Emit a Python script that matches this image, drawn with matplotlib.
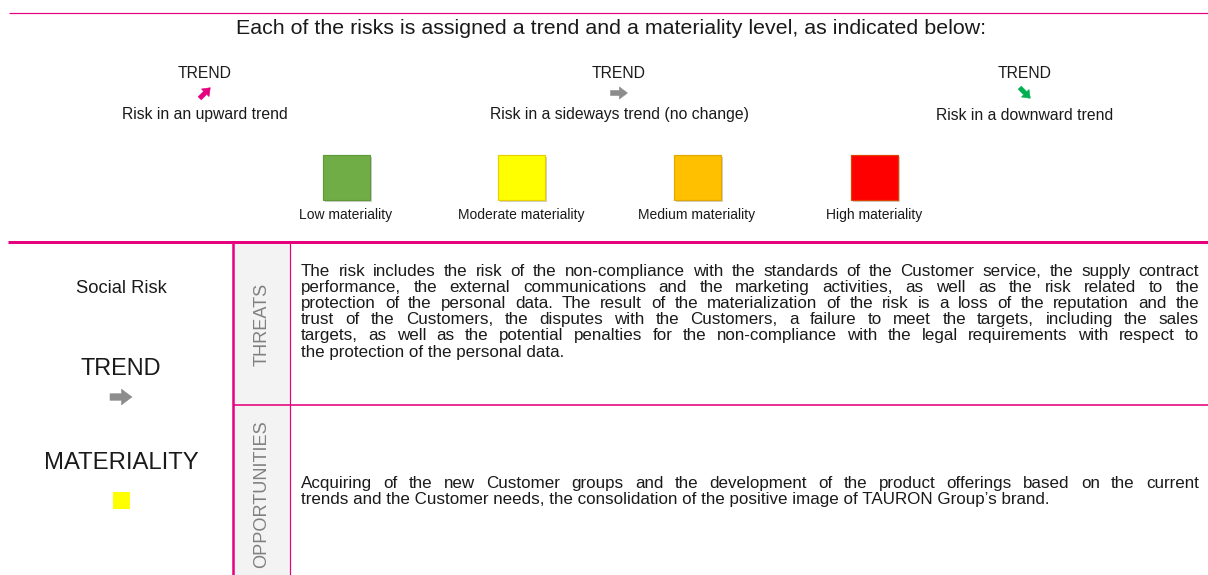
import numpy as np
import matplotlib
matplotlib.use("Agg")
import matplotlib.pyplot as plt
from matplotlib.patches import Rectangle, Polygon

# ---------------- data ----------------
title = "Each of the risks is assigned a trend and a materiality level, as indicated below:"
trend_heading = "TREND"
trend_labels = ["Risk in an upward trend",
                "Risk in a sideways trend (no change)",
                "Risk in a downward trend"]
trend_angles = [45, 0, -45]
trend_colors = ["#e6007e", "#8c8c8c", "#00b050"]

materiality_labels = ["Low materiality", "Moderate materiality",
                      "Medium materiality", "High materiality"]
materiality_colors = ["#70ad47", "#ffff00", "#ffc000", "#ff0000"]
materiality_edges = ["#5e9a3a", "#e8d000", "#e0a800", "#e04000"]

risk_name = "Social Risk"
risk_trend_index = 1          # sideways
risk_materiality_index = 1    # moderate

section_labels = ["THREATS", "OPPORTUNITIES"]
threats_lines = [
    "The risk includes the risk of the non-compliance with the standards of the Customer service, the supply contract",
    "performance, the external communications and the marketing activities, as well as the risk related to the",
    "protection of the personal data. The result of the materialization of the risk is a loss of the reputation and the",
    "trust of the Customers, the disputes with the Customers, a failure to meet the targets, including the sales",
    "targets, as well as the potential penalties for the non-compliance with the legal requirements with respect to",
    "the protection of the personal data.",
]
opportunities_lines = [
    "Acquiring of the new Customer groups and the development of the product offerings based on the current",
    "trends and the Customer needs, the consolidation of the positive image of TAURON Group\u2019s brand.",
]

# ---------------- layout ----------------
W, H, DPI = 1208, 575, 100
PINK = "#e6007e"
TXT = "#1a1a1a"
GRAY_TXT = "#808080"

plt.rcParams["font.family"] = ["Liberation Sans", "DejaVu Sans"]

fig = plt.figure(figsize=(W / DPI, H / DPI), dpi=DPI)
ax = fig.add_axes([0, 0, 1, 1])
ax.set_xlim(0, W)
ax.set_ylim(H, 0)
ax.axis("off")

def px(p):
    return p * 72.0 / DPI

# block arrow shape (unit length, pointing right)
ARROW_SHAPE = np.array([
    [-0.50, -0.15], [0.02, -0.15], [0.02, -0.36], [0.50, 0.0],
    [0.02, 0.36], [0.02, 0.15], [-0.50, 0.15],
])

def block_arrow(cx, cy, length, angle_deg, color):
    a = np.deg2rad(angle_deg)
    rot = np.array([[np.cos(a), -np.sin(a)], [np.sin(a), np.cos(a)]])
    pts = ARROW_SHAPE @ rot.T * length
    pts[:, 1] *= -1            # y axis points down in this canvas
    pts += [cx, cy]
    ax.add_patch(Polygon(pts, closed=True, facecolor=color, edgecolor=color,
                         lw=px(0.5), joinstyle="miter", zorder=4))

# title & top line
ax.plot([9, W], [13, 13], color=PINK, lw=px(1.2), solid_capstyle="butt")
ax.text(611, 34, title, ha="center", va="baseline", fontsize=px(21.4), color=TXT)

# trend legend
trend_x = [205, 619, 1025]
trend_len = [15, 17, 15]
for x, lab, ang, col, ln in zip(trend_x, trend_labels, trend_angles, trend_colors, trend_len):
    ax.text(x, 78, trend_heading, ha="center", va="baseline", fontsize=px(15.8), color=TXT)
    block_arrow(x, 93, ln, ang, col)
    ax.text(x, 119.5, lab, ha="center", va="baseline", fontsize=px(15.8), color=TXT)

# materiality legend
mat_x = [346, 521, 697, 874]
sq_w, sq_h, sq_top = 47, 45, 155
for x, lab, col, ec in zip(mat_x, materiality_labels, materiality_colors, materiality_edges):
    ax.add_patch(Rectangle((x - sq_w / 2 + 2, sq_top + 2), sq_w, sq_h,
                           facecolor="#d0d0d0", edgecolor="none", zorder=1))
    ax.add_patch(Rectangle((x - sq_w / 2, sq_top), sq_w, sq_h,
                           facecolor=col, edgecolor=ec, lw=px(1.2), zorder=2))
    ax.text(x, 219, lab, ha="center", va="baseline", fontsize=px(13.9), color=TXT)

# table frame
TOP = 242
MID = 404.5
ax.add_patch(Rectangle((233, TOP), 57, H - TOP, facecolor="#f3f3f3", edgecolor="none", zorder=0))
ax.plot([8, W], [TOP, TOP], color=PINK, lw=px(3), solid_capstyle="butt", zorder=3)
ax.plot([233, 233], [TOP, H], color=PINK, lw=px(2.5), solid_capstyle="butt", zorder=3)
ax.plot([290, 290], [TOP, H], color=PINK, lw=px(1.2), solid_capstyle="butt", zorder=3)
ax.plot([233, W], [MID, MID], color=PINK, lw=px(1.6), solid_capstyle="butt", zorder=3)

# left panel
ax.text(121, 293, risk_name, ha="center", va="baseline", fontsize=px(18.4), color=TXT)
ax.text(121, 375, trend_heading, ha="center", va="baseline", fontsize=px(23.5), color=TXT)
block_arrow(121, 397, 22, trend_angles[risk_trend_index], trend_colors[risk_trend_index])
ax.text(121, 469, "MATERIALITY", ha="center", va="baseline", fontsize=px(23.9), color=TXT)
ax.add_patch(Rectangle((113, 492), 17, 17,
                       facecolor=materiality_colors[risk_materiality_index],
                       edgecolor="none"))

# section labels
ax.text(262, (TOP + MID) / 2 + 1, section_labels[0], rotation=90, ha="center", va="center",
        fontsize=px(18.2), color=GRAY_TXT)
ax.text(262, 494, section_labels[1], rotation=90, ha="center", va="center",
        fontsize=px(18.2), color=GRAY_TXT)

# justified paragraphs
fig.canvas.draw()
renderer = fig.canvas.get_renderer()
BODY_FS = px(17.0)

def measure(s):
    t = ax.text(0, 0, s, fontsize=BODY_FS)
    w = t.get_window_extent(renderer).width
    t.remove()
    return w

def paragraph(lines, x0, x1, y0, dy):
    for i, line in enumerate(lines):
        y = y0 + i * dy
        words = line.split(" ")
        if i == len(lines) - 1 or len(words) < 2:
            ax.text(x0, y, line, ha="left", va="baseline", fontsize=BODY_FS, color=TXT)
            continue
        widths = [measure(w) for w in words]
        gap = (x1 - x0 - sum(widths)) / (len(words) - 1)
        x = x0
        for w, wd in zip(words, widths):
            ax.text(x, y, w, ha="left", va="baseline", fontsize=BODY_FS, color=TXT)
            x += wd + gap

paragraph(threats_lines, 301, 1199, 276, 16.1)
paragraph(opportunities_lines, 301, 1199, 488, 16.1)

fig.savefig("out.png", dpi=DPI)
